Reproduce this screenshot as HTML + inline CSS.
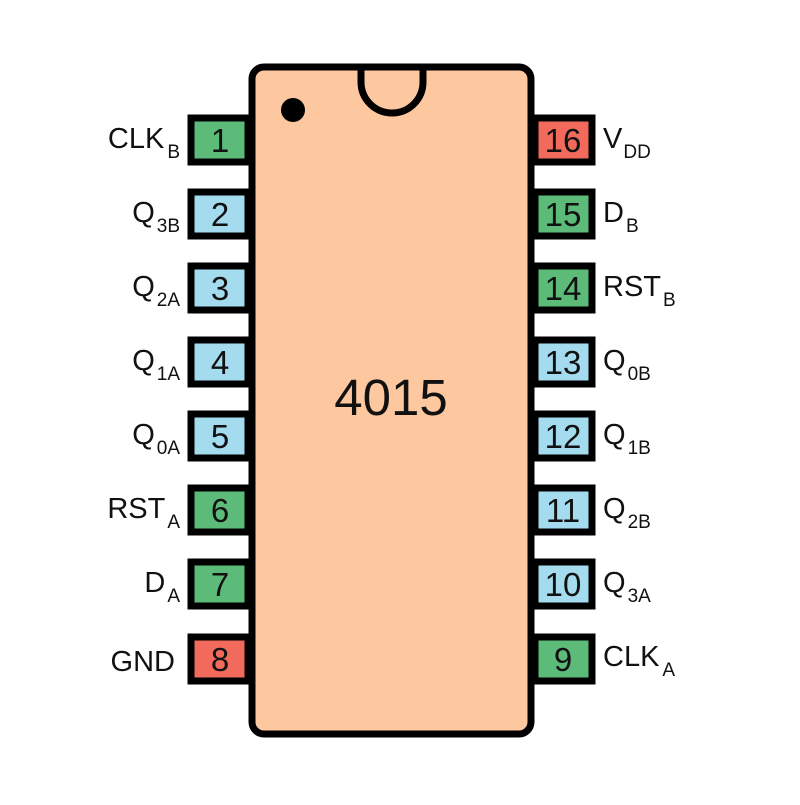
<!DOCTYPE html><html><head><style>body{margin:0;background:#fff}</style></head><body>
<svg width="800" height="800" xmlns="http://www.w3.org/2000/svg" font-family="Liberation Sans, sans-serif">
<g stroke="#000" stroke-width="7">
<rect x="252" y="67" width="279" height="667" rx="12" fill="#fdc8a0"/>
<path d="M361 67 v15 a31 31 0 0 0 62 0 v-15" fill="none"/>
</g>
<circle cx="293" cy="110" r="12" fill="#000"/>
<g stroke="#000" stroke-width="7">
<rect x="191" y="118" width="57" height="44" fill="#5dbb7a"/>
<rect x="191" y="192" width="57" height="44" fill="#a5dbef"/>
<rect x="191" y="266" width="57" height="44" fill="#a5dbef"/>
<rect x="191" y="340" width="57" height="44" fill="#a5dbef"/>
<rect x="191" y="414" width="57" height="44" fill="#a5dbef"/>
<rect x="191" y="488" width="57" height="44" fill="#5dbb7a"/>
<rect x="191" y="562" width="57" height="44" fill="#5dbb7a"/>
<rect x="191" y="637" width="57" height="44" fill="#f16a5b"/>
<rect x="535" y="118" width="57" height="44" fill="#f16a5b"/>
<rect x="535" y="192" width="57" height="44" fill="#5dbb7a"/>
<rect x="535" y="266" width="57" height="44" fill="#5dbb7a"/>
<rect x="535" y="340" width="57" height="44" fill="#a5dbef"/>
<rect x="535" y="414" width="57" height="44" fill="#a5dbef"/>
<rect x="535" y="488" width="57" height="44" fill="#a5dbef"/>
<rect x="535" y="562" width="57" height="44" fill="#a5dbef"/>
<rect x="535" y="637" width="57" height="44" fill="#5dbb7a"/>
</g>
<g font-size="33" text-anchor="middle" fill="#111">
<text x="220" y="152">1</text><text x="220" y="226">2</text><text x="220" y="300">3</text><text x="220" y="374">4</text><text x="220" y="448">5</text><text x="220" y="522">6</text><text x="220" y="596">7</text><text x="220" y="671">8</text>
<text x="563" y="152">16</text><text x="563" y="226">15</text><text x="563" y="300">14</text><text x="563" y="374">13</text><text x="563" y="448">12</text><text x="563" y="522">11</text><text x="563" y="596">10</text><text x="563" y="671">9</text>
</g>
<text x="391" y="415" font-size="51" text-anchor="middle" fill="#111">4015</text>
<g font-size="29" fill="#111" text-anchor="end">
<text x="180" y="148">CLK<tspan font-size="19" dx="3" dy="10">B</tspan></text>
<text x="180" y="222">Q<tspan font-size="19" dx="2" dy="10">3B</tspan></text>
<text x="180" y="296">Q<tspan font-size="19" dx="2" dy="10">2A</tspan></text>
<text x="180" y="370">Q<tspan font-size="19" dx="2" dy="10">1A</tspan></text>
<text x="180" y="444">Q<tspan font-size="19" dx="2" dy="10">0A</tspan></text>
<text x="180" y="518">RST<tspan font-size="19" dx="2" dy="10">A</tspan></text>
<text x="180" y="592">D<tspan font-size="19" dx="2" dy="10">A</tspan></text>
<text x="175" y="671">GND</text>
</g>
<g font-size="29" fill="#111">
<text x="603" y="148">V<tspan font-size="19" dx="1" dy="10">DD</tspan></text>
<text x="603" y="222">D<tspan font-size="19" dx="2" dy="10">B</tspan></text>
<text x="603" y="296">RST<tspan font-size="19" dx="2" dy="10">B</tspan></text>
<text x="603" y="370">Q<tspan font-size="19" dx="2" dy="10">0B</tspan></text>
<text x="603" y="444">Q<tspan font-size="19" dx="2" dy="10">1B</tspan></text>
<text x="603" y="518">Q<tspan font-size="19" dx="2" dy="10">2B</tspan></text>
<text x="603" y="592">Q<tspan font-size="19" dx="2" dy="10">3A</tspan></text>
<text x="603" y="666">CLK<tspan font-size="19" dx="3" dy="10">A</tspan></text>
</g>
</svg>
</body></html>
